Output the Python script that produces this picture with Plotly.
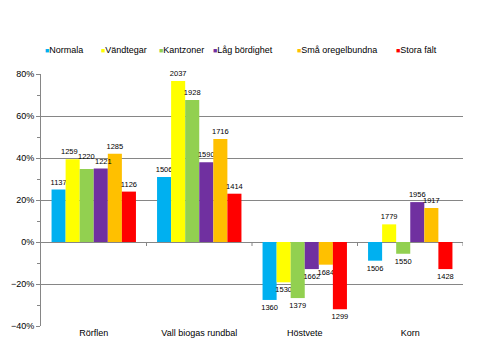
import plotly.graph_objects as go

categories = ["Rörflen", "Vall biogas rundbal", "Höstvete", "Korn"]
series_names = ["Normala", "Vändtegar", "Kantzoner", "Låg bördighet", "Små oregelbundna", "Stora fält"]
colors = ["#00B0F0", "#FFFF00", "#92D050", "#7030A0", "#FFC000", "#FF0000"]

normala = [25, 31, -27.6, -8.9]
vandtegar = [39.4, 76.7, -19.2, 8.4]
kantzoner = [34.8, 67.6, -26.7, -5.6]
lag_bordighet = [35, 38, -12.9, 19]
sma_oregelbundna = [42, 49, -10.8, 16.2]
stora_falt = [24, 23, -32, -12.9]

normala_lbl = [1137, 1506, 1360, 1506]
vandtegar_lbl = [1259, 2037, 1530, 1779]
kantzoner_lbl = [1220, 1928, 1379, 1550]
lag_bordighet_lbl = [1221, 1590, 1662, 1956]
sma_oregelbundna_lbl = [1285, 1716, 1684, 1917]
stora_falt_lbl = [1126, 1414, 1299, 1428]

values = [normala, vandtegar, kantzoner, lag_bordighet, sma_oregelbundna, stora_falt]
labels = [normala_lbl, vandtegar_lbl, kantzoner_lbl, lag_bordighet_lbl, sma_oregelbundna_lbl, stora_falt_lbl]

# page has an 8px body margin; figure coordinates are page minus 8
OFF = 8
legend_px = [43 - OFF, 99 - OFF, 157 - OFF, 211 - OFF, 295 - OFF, 394 - OFF]
legend_py = 50 - OFF

font = "Liberation Sans, Arial, sans-serif"
W, H = 472, 352
ML, MR, MT, MB = 41 - OFF, 17, 74 - OFF, 34
PW = W - ML - MR
PH = H - MT - MB
BAR_PX = PW / len(categories) * 0.8 / len(series_names)

# nudged labels: (series index, category index) -> (x nudge px, lift px)
nudged = {(1, 0): (-3, 0), (2, 0): (0, 5), (3, 0): (3, 0)}

fig = go.Figure()
annotations = []
for si, (name, col, v, l) in enumerate(zip(series_names, colors, values, labels)):
    txt = []
    for ci, t in enumerate(l):
        if (si, ci) in nudged:
            dx, dy = nudged[(si, ci)]
            txt.append("")
            annotations.append(dict(
                x=categories[ci], y=v[ci], xref="x", yref="y", showarrow=False,
                xshift=(si - 2.5) * BAR_PX + dx, yshift=1 + dy,
                yanchor="bottom", text=str(t),
                font=dict(size=7.5, color="black", family=font)))
        else:
            txt.append(str(t))
    fig.add_trace(go.Bar(
        name=name, x=categories, y=v, marker=dict(color=col, line=dict(width=0)),
        text=txt, textposition="outside", constraintext="none",
        textfont=dict(size=7.5, color="black", family=font), cliponaxis=False,
        showlegend=False,
    ))

shapes = []
for i in range(len(categories)):
    shapes.append(dict(type="line", xref="x", yref="y", x0=i + 0.5, x1=i + 0.5,
                       ysizemode="pixel", yanchor=0, y0=0, y1=-4,
                       line=dict(color="#868686", width=1)))

for name, col, px in zip(series_names, colors, legend_px):
    annotations.append(dict(
        xref="paper", yref="paper", x=(px - ML) / PW, y=(H - MB - legend_py) / PH,
        xanchor="left", yanchor="middle", showarrow=False,
        text=f"<span style='color:{col};font-size:7px'>■</span>{name}",
        font=dict(size=9, color="black", family=font),
    ))

fig.update_layout(
    width=W, height=H,
    margin=dict(l=ML, r=MR, t=MT, b=MB, autoexpand=False),
    paper_bgcolor="white", plot_bgcolor="white",
    barmode="group", bargap=0.2, bargroupgap=0,
    font=dict(family=font, size=9, color="black"),
    showlegend=False,
    shapes=shapes,
    annotations=annotations,
    xaxis=dict(showgrid=False, showline=False, ticks="", tickfont=dict(size=9),
               range=[-0.5, 3.5]),
    yaxis=dict(range=[-40, 80], dtick=20, ticksuffix="%", showgrid=True,
               gridcolor="#868686", gridwidth=1, zeroline=True, zerolinecolor="#868686",
               zerolinewidth=1, showline=True, linecolor="#868686", linewidth=1,
               ticks="outside", ticklen=4, tickcolor="#868686",
               minor=dict(dtick=10, ticks="outside", ticklen=3, tickcolor="#868686", showgrid=False),
               tickfont=dict(size=9)),
)
fig.write_html("out.html")
